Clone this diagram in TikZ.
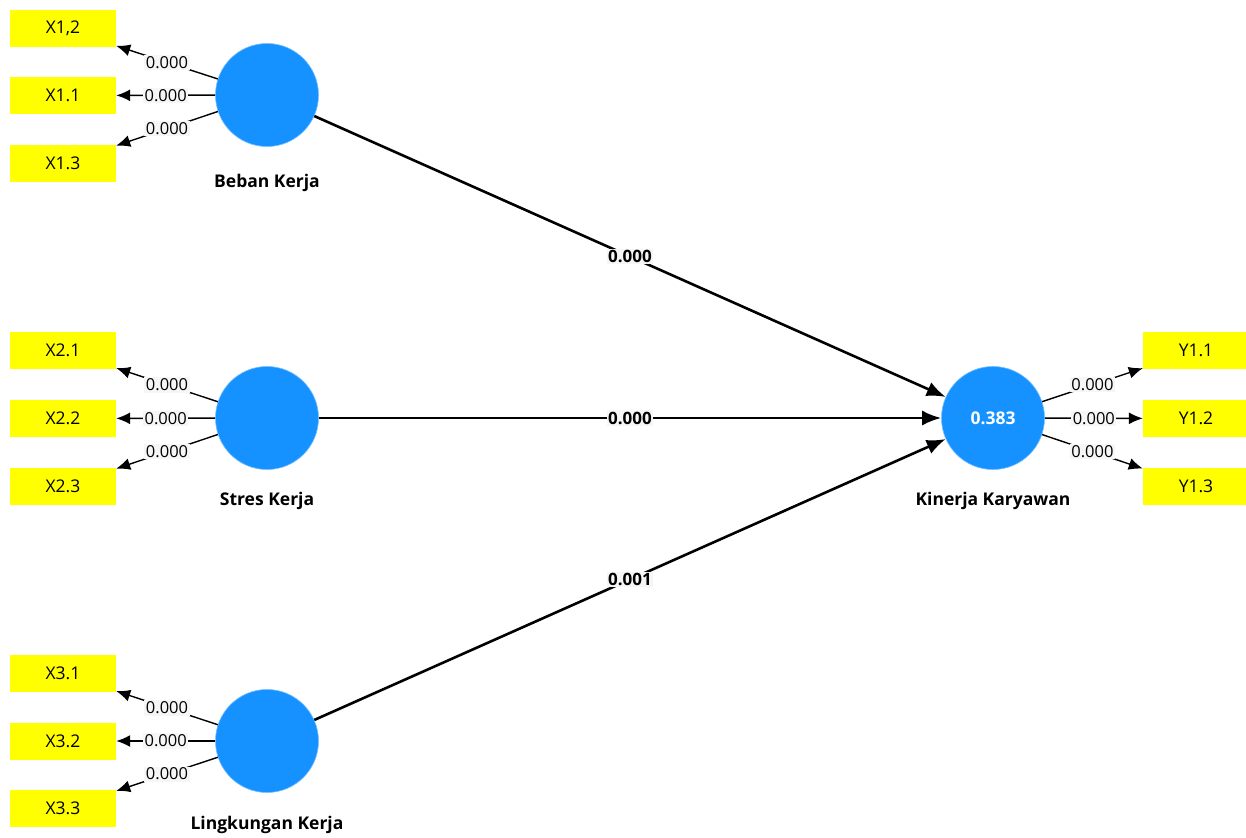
\documentclass[tikz,border=0pt]{standalone}
\usepackage{fontspec}
\setmainfont{Open Sans}
\usetikzlibrary{arrows.meta}
\definecolor{lvblue}{HTML}{1592FF}
\definecolor{indyel}{HTML}{FFFF00}
\definecolor{lblbg}{HTML}{F6F6F6}
\begin{document}
\begin{tikzpicture}[x=1pt,y=-1pt,
  ind/.style={rectangle,fill=indyel,minimum width=106pt,minimum height=37pt,inner sep=0pt,font=\fontsize{17.5}{19}\selectfont},
  lv/.style={circle,fill=lvblue,draw=lvblue!60!white,line width=0.6pt,minimum size=103pt,inner sep=0pt,text=white,font=\fontsize{17.5}{19}\selectfont\bfseries},
  lvname/.style={font=\fontsize{17.5}{19}\selectfont\bfseries,inner sep=0pt},
  load/.style={line width=1.4pt,-{Latex[length=14pt,width=12pt]}},
  path/.style={line width=2.6pt,-{Latex[length=19pt,width=15pt]}},
  lbl/.style={fill=lblbg,inner sep=1.5pt,font=\fontsize{16.5}{18}\selectfont},
  blbl/.style={fill=lblbg,inner sep=1.5pt,font=\fontsize{17}{19}\selectfont\bfseries}]
\useasboundingbox[fill=white] (0,0) rectangle (1246,837);

% latent variables
\node[lv] (bk) at (267,95) {};
\node[lv] (sk) at (267,418) {};
\node[lv] (lk) at (267,741) {};
\node[lv] (kk) at (993,418) {0.383};

\node[lvname] (bkn) at (267,183) {Beban Kerja};
\node[lvname] (skn) at (267,501) {Stres Kerja};
\node[lvname] (lkn) at (267,825) {Lingkungan Kerja};
\node[lvname] (kkn) at (993,501) {Kinerja Karyawan};

% indicators
\node[ind] (x12) at (63,28.5) {X1,2};
\node[ind] (x11) at (63,95.5) {X1.1};
\node[ind] (x13) at (63,163.5) {X1.3};
\node[ind] (x21) at (63,350.5) {X2.1};
\node[ind] (x22) at (63,418.5) {X2.2};
\node[ind] (x23) at (63,486.5) {X2.3};
\node[ind] (x31) at (63,673.5) {X3.1};
\node[ind] (x32) at (63,741) {X3.2};
\node[ind] (x33) at (63,808.5) {X3.3};
\node[ind] (y11) at (1196,350.5) {Y1.1};
\node[ind] (y12) at (1196,418.5) {Y1.2};
\node[ind] (y13) at (1196,486.5) {Y1.3};

% loadings
\foreach \lvn/\a/\b/\c in {bk/x12/x11/x13, sk/x21/x22/x23, lk/x31/x32/x33}{
  \draw[load] (\lvn) -- node[lbl]{0.000} (\a);
  \draw[load] (\lvn) -- node[lbl]{0.000} (\b);
  \draw[load] (\lvn) -- node[lbl]{0.000} (\c);
}
\draw[load] (kk) -- node[lbl]{0.000} (y11);
\draw[load] (kk) -- node[lbl]{0.000} (y12);
\draw[load] (kk) -- node[lbl]{0.000} (y13);

% structural paths
\draw[path] (bk) -- node[blbl]{0.000} (kk);
\draw[path] (sk) -- node[blbl]{0.000} (kk);
\draw[path] (lk) -- node[blbl]{0.001} (kk);
\end{tikzpicture}
\end{document}
